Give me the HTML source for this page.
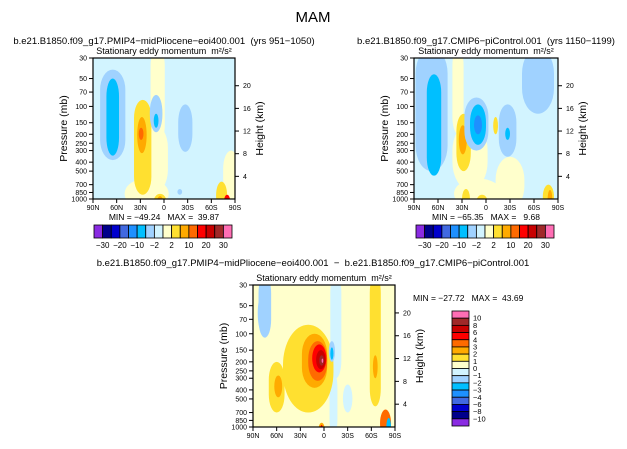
<!DOCTYPE html>
<html><head><meta charset="utf-8"><style>
body{margin:0;background:#fff;}
svg text{font-family:"Liberation Sans",sans-serif;fill:#000;white-space:pre;}
</style></head><body>
<svg id="s" width="627" height="444" viewBox="0 0 627 444" xmlns="http://www.w3.org/2000/svg">
<defs>
<clipPath id="c1"><rect x="93" y="58" width="142" height="141"/></clipPath>
<clipPath id="c2"><rect x="414" y="58" width="144" height="141"/></clipPath>
<clipPath id="c3"><rect x="253" y="285" width="142" height="142"/></clipPath>
</defs>
<text x="313" y="22" font-size="15" text-anchor="middle">MAM</text>
</svg>
<script>
// ---- data ----
const latTicks=[90,60,30,0,-30,-60,-90];
const latLabels=["90N","60N","30N","0","30S","60S","90S"];
const pTicks=[30,50,70,100,150,200,250,300,400,500,700,850,1000];
const zTicks=[20,16,12,8,4];
const topLevels=["-30","-20","-10","-2","2","10","20","30"];
const topColors=["#8a2be2","#00008b","#0000cd","#4169e1","#1e90ff","#00bfff","#a0d2ff","#d2f4ff","#ffffcc","#ffe030","#ffaa00","#ff6a00","#ff0000","#c80000","#a02828","#ff6eb4"];
const diffLevels=["10","8","6","4","3","2","1","0","-1","-2","-3","-4","-6","-8","-10"];
const diffColors=["#ff6eb4","#a02828","#c80000","#ff0000","#ff6a00","#ffaa00","#ffe030","#ffffcc","#d2f4ff","#a0d2ff","#00bfff","#1e90ff","#4169e1","#0000cd","#00008b","#8a2be2"];
// features: [lat, pTop, pBottom, halfWidthDeg, colorIndex]
const feat1=[[8,30,250,9,8],[15,150,900,20,8],[22,600,1000,28,8],[-85,300,1000,10,8],[65,40,380,16,6],[65,50,340,8,5],[27,85,900,11,9],[28,130,320,6,10],[29,170,230,3,11],[10,75,190,8,6],[10,120,170,3,5],[-27,95,310,9,6],[5,880,1000,8,9],[5,930,1000,4,10],[-73,650,1000,7,9],[-80,900,1000,4,12],[-20,780,900,3,6]];
const feat2=[[35,30,200,7,8],[20,150,800,22,8],[-30,350,1000,18,8],[10,600,1000,30,8],[68,30,500,20,6],[65,45,560,9,5],[-65,30,120,20,6],[28,120,500,9,9],[29,160,330,5,10],[12,80,300,15,6],[10,95,260,10,5],[10,125,200,5,4],[-12,130,200,3,9],[-27,95,350,11,6],[-27,170,230,3,5],[25,780,1000,5,9],[5,900,1000,7,9],[-78,700,1000,7,9],[-80,800,1000,3,10]];
const feat3=[[-15,30,300,7,8],[-12,250,1000,5,8],[-30,350,700,6,8],[75,30,110,8,9],[80,40,90,4,9],[20,80,700,32,6],[60,200,700,10,6],[58,280,480,5,5],[-65,30,600,7,6],[-65,170,300,3,5],[12,100,380,16,5],[8,120,320,12,4],[6,130,260,9,3],[4,150,240,6,2],[3,170,220,3,1],[2,185,205,1,0],[-10,120,200,4,9],[-10,140,190,2,10],[3,900,1000,4,5],[3,950,1000,2,3],[-78,650,1000,7,4],[-82,800,1000,3,10]];

const S=document.getElementById('s'),NS='http://www.w3.org/2000/svg';
function el(t,a,p){const e=document.createElementNS(NS,t);for(const k in a)e.setAttribute(k,a[k]);(p||S).appendChild(e);return e;}
function mkAxes(L,T,W,H){
  const x=lat=>L+(90-lat)/180*W;
  const y=p=>T+Math.log(p/30)/Math.log(1000/30)*H;
  return {x,y,L,T,W,H};
}
function txt(x,y,s,size,anchor,name,rot){const t=el('text',{x:x,y:y,'font-size':size,'text-anchor':anchor||'start'});t.textContent=s;
 
 
 if(rot)t.setAttribute('transform',`rotate(-90 ${x} ${y})`);return t;}
function panel(ax,feats,colors,bg,clip,name,title){
  const g=el('g',{'clip-path':`url(#${clip})`});
  
  
  el('rect',{x:ax.L,y:ax.T,width:ax.W,height:ax.H,fill:bg},g);
  feats.forEach(f=>{
    let y1=ax.y(f[1]),y2=ax.y(Math.min(f[2],1000));
    if(f[1]<=30)y1-=10;
    if(f[2]>=1000)y2+=10;
    const cx=ax.x(f[0]),hw=f[3]/180*ax.W;
    const h=y2-y1;
    const r=el('rect',{x:cx-hw,y:y1,width:2*hw,height:h,rx:hw,ry:Math.min(h/2,Math.max(hw*1.6,18)),fill:colors[f[4]]},g);
    
    
  });
  const fr=el('rect',{x:ax.L,y:ax.T,width:ax.W,height:ax.H,fill:'none',stroke:'#000','stroke-width':1.2});
  
  
  latTicks.forEach((l,i)=>{const xx=ax.x(l);el('line',{x1:xx,x2:xx,y1:ax.T+ax.H,y2:ax.T+ax.H+4,stroke:'#000'});
    txt(xx,ax.T+ax.H+11,latLabels[i],7,'middle',name+'-x-tick-label');});
  pTicks.forEach(p=>{const yy=ax.y(p);el('line',{x1:ax.L-4,x2:ax.L,y1:yy,y2:yy,stroke:'#000'});
    txt(ax.L-6,yy+2.5,String(p),7,'end',name+'-y-tick-label');});
  zTicks.forEach(z=>{const p=1000*Math.exp(-z/7.1);const yy=ax.y(p);el('line',{x1:ax.L+ax.W,x2:ax.L+ax.W+4,y1:yy,y2:yy,stroke:'#000'});
    txt(ax.L+ax.W+8,yy+2.5,String(z),7,'start',name+'-height-tick-label');});
  txt(ax.L-26,ax.T+ax.H/2,'Pressure (mb)',10.5,'middle',name+'-y-axis-title',true);
  txt(ax.L+ax.W+28,ax.T+ax.H/2,'Height (km)',10.5,'middle',name+'-height-axis-title',true);
  txt(ax.L+ax.W/2,ax.T-4,'Stationary eddy momentum  m\u00b2/s\u00b2',9,'middle',name+'-variable-title');
  if(title)txt(ax.L+ax.W/2,ax.T-14,title,9.5,'middle',name+'-run-title');
}
function hbar(L,T,W,H,name){
  const n=topColors.length,w=W/n;
  topColors.forEach((c,i)=>{const r=el('rect',{x:L+i*w,y:T,width:w,height:H,fill:c,stroke:'#000','stroke-width':0.8});
    
    });
  topLevels.forEach((s,i)=>{const idx=[1,3,5,7,9,11,13,15][i]-1; txt(L+(idx+1)*w,T+H+10,s.replace('-','\u2212'),8,'middle',name+'-colorbar-label');});
}
const a1=mkAxes(93,58,142,141),a2=mkAxes(414,58,144,141),a3=mkAxes(253,285,142,142);
panel(a1,feat1,topColors,'#d2f4ff','c1','left','b.e21.B1850.f09_g17.PMIP4\u2212midPliocene\u2212eoi400.001  (yrs 951\u22121050)');
panel(a2,feat2,topColors,'#d2f4ff','c2','right','b.e21.B1850.f09_g17.CMIP6\u2212piControl.001  (yrs 1150\u22121199)');
panel(a3,feat3,diffColors,'#ffffcc','c3','diff','');
txt(313,266,'b.e21.B1850.f09_g17.PMIP4\u2212midPliocene\u2212eoi400.001  \u2212  b.e21.B1850.f09_g17.CMIP6\u2212piControl.001',9.5,'middle','diff-run-title');
txt(164,220,'MIN = \u221249.24   MAX =  39.87',8.5,'middle','left-min-max');
txt(486,220,'MIN = \u221265.35   MAX =   9.68',8.5,'middle','right-min-max');
txt(413,301,'MIN = \u221227.72   MAX =  43.69',8.5,'start','diff-min-max');
hbar(94,225,138,13,'left');
hbar(416,225,138,13,'right');
(function(){const L=452,T=311,W=17,H=115,n=diffColors.length,h=H/n;
 diffColors.forEach((c,i)=>{const r=el('rect',{x:L,y:T+i*h,width:W,height:h,fill:c,stroke:'#000','stroke-width':0.8});
  
  });
 diffLevels.forEach((s,i)=>txt(L+W+4,T+(i+1)*h+2.5,s.replace('-','\u2212'),7.5,'start','diff-colorbar-label'));
})();
</script>
</body></html>
